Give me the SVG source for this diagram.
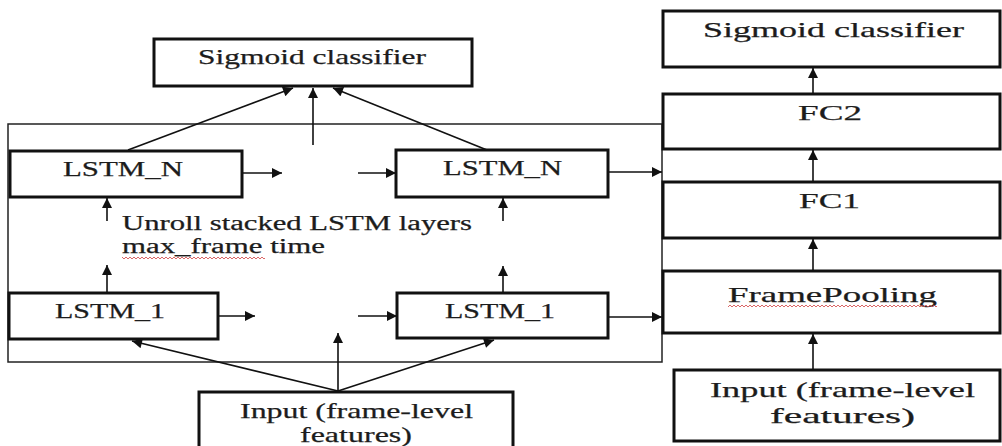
<svg xmlns="http://www.w3.org/2000/svg" width="1002" height="446" viewBox="0 0 1002 446">
  <style>
    .box { fill: #fff; stroke: #111; stroke-width: 3; }
    .frame { fill: none; stroke: #222; stroke-width: 1.5; }
    .lbl { font-family: "Liberation Serif", "DejaVu Serif", serif; font-size: 22px; fill: #1c1c1c; stroke: #1c1c1c; stroke-width: 0.25; }
    .note { font-size: 20px; }
    .con { stroke: #111; stroke-width: 1.6; fill: none; }
  </style>
  <defs>
    <marker id="ah" viewBox="0 0 10 10" refX="10" refY="5" markerWidth="12" markerHeight="10" markerUnits="userSpaceOnUse" orient="auto">
      <path d="M0,0 L10,5 L0,10 z" fill="#111"/>
    </marker>
    <pattern id="squig" x="0" y="0" width="4" height="4" patternUnits="userSpaceOnUse">
      <path d="M0 3 L2 1 L4 3" stroke="#d04040" stroke-width="0.8" fill="none"/>
    </pattern>
  </defs>

  <!-- unrolled LSTM region -->
  <rect id="unroll-frame" class="frame" x="8" y="124" width="654" height="238"/>

  <!-- left model: stacked LSTM -->
  <g id="sigmoid-left">
    <rect class="box" x="154" y="39" width="318" height="47"/>
    <text class="lbl" x="198" y="64" textLength="228" lengthAdjust="spacingAndGlyphs">Sigmoid classifier</text>
  </g>
  <g id="lstm-n-t0">
    <rect class="box" x="10" y="151" width="232" height="46"/>
    <text class="lbl" x="63" y="176" textLength="120" lengthAdjust="spacingAndGlyphs">LSTM_N</text>
  </g>
  <g id="lstm-n-tmax">
    <rect class="box" x="396" y="150" width="212" height="47"/>
    <text class="lbl" x="443" y="175" textLength="119" lengthAdjust="spacingAndGlyphs">LSTM_N</text>
  </g>
  <g id="lstm-1-t0">
    <rect class="box" x="9" y="293" width="209" height="46"/>
    <text class="lbl" x="55" y="318" textLength="110" lengthAdjust="spacingAndGlyphs">LSTM_1</text>
  </g>
  <g id="lstm-1-tmax">
    <rect class="box" x="397" y="293" width="211" height="45"/>
    <text class="lbl" x="445" y="318" textLength="110" lengthAdjust="spacingAndGlyphs">LSTM_1</text>
  </g>
  <g id="unroll-note">
    <text class="lbl note" x="122" y="230" textLength="350" lengthAdjust="spacingAndGlyphs">Unroll stacked LSTM layers</text>
    <text class="lbl note" x="122" y="253" textLength="203" lengthAdjust="spacingAndGlyphs">max_frame time</text>
    <rect x="122" y="255" width="143" height="4" fill="url(#squig)"/>
  </g>
  <g id="input-left">
    <rect class="box" x="199" y="392" width="314" height="60"/>
    <text class="lbl" x="240" y="418" textLength="233" lengthAdjust="spacingAndGlyphs">Input (frame-level</text>
    <text class="lbl" x="300" y="442" textLength="112" lengthAdjust="spacingAndGlyphs">features)</text>
  </g>

  <!-- right model: frame pooling + fully connected -->
  <g id="sigmoid-right">
    <rect class="box" x="663" y="11" width="337" height="56"/>
    <text class="lbl" x="703" y="37" textLength="261" lengthAdjust="spacingAndGlyphs">Sigmoid classifier</text>
  </g>
  <g id="fc2">
    <rect class="box" x="663" y="94" width="337" height="55"/>
    <text class="lbl" x="798" y="120" textLength="64" lengthAdjust="spacingAndGlyphs">FC2</text>
  </g>
  <g id="fc1">
    <rect class="box" x="663" y="182" width="337" height="56"/>
    <text class="lbl" x="799" y="208" textLength="61" lengthAdjust="spacingAndGlyphs">FC1</text>
  </g>
  <g id="frame-pooling">
    <rect class="box" x="663" y="271" width="337" height="62"/>
    <text class="lbl" x="728" y="302" textLength="209" lengthAdjust="spacingAndGlyphs">FramePooling</text>
    <rect x="728" y="304" width="209" height="4" fill="url(#squig)"/>
  </g>
  <g id="input-right">
    <rect class="box" x="674" y="370" width="326" height="71"/>
    <text class="lbl" x="710" y="397" textLength="265" lengthAdjust="spacingAndGlyphs">Input (frame-level</text>
    <text class="lbl" x="770" y="423" textLength="145" lengthAdjust="spacingAndGlyphs">features)</text>
  </g>

  <g id="connectors">
    <!-- top layer to classifier -->
    <line class="con" x1="128" y1="150" x2="293" y2="88" marker-end="url(#ah)"/>
    <line class="con" x1="313" y1="145" x2="313" y2="88" marker-end="url(#ah)"/>
    <line class="con" x1="487" y1="150" x2="333" y2="88" marker-end="url(#ah)"/>
    <!-- recurrence along time, layer N -->
    <line class="con" x1="243" y1="173" x2="282" y2="173" marker-end="url(#ah)"/>
    <line class="con" x1="358" y1="173" x2="396" y2="173" marker-end="url(#ah)"/>
    <line class="con" x1="608" y1="172" x2="662" y2="172" marker-end="url(#ah)"/>
    <!-- recurrence along time, layer 1 -->
    <line class="con" x1="218" y1="316" x2="255" y2="316" marker-end="url(#ah)"/>
    <line class="con" x1="358" y1="316" x2="397" y2="316" marker-end="url(#ah)"/>
    <line class="con" x1="608" y1="317" x2="662" y2="317" marker-end="url(#ah)"/>
    <!-- stacking between layers -->
    <line class="con" x1="107" y1="221" x2="107" y2="198" marker-end="url(#ah)"/>
    <line class="con" x1="107" y1="292" x2="107" y2="265" marker-end="url(#ah)"/>
    <line class="con" x1="503" y1="221" x2="503" y2="198" marker-end="url(#ah)"/>
    <line class="con" x1="503" y1="292" x2="503" y2="266" marker-end="url(#ah)"/>
    <!-- input to first layer -->
    <line class="con" x1="338" y1="391" x2="132" y2="341" marker-end="url(#ah)"/>
    <line class="con" x1="338" y1="391" x2="338" y2="333" marker-end="url(#ah)"/>
    <line class="con" x1="338" y1="391" x2="494" y2="340" marker-end="url(#ah)"/>
    <!-- right column -->
    <line class="con" x1="813" y1="94" x2="813" y2="68" marker-end="url(#ah)"/>
    <line class="con" x1="813" y1="182" x2="813" y2="150" marker-end="url(#ah)"/>
    <line class="con" x1="813" y1="271" x2="813" y2="239" marker-end="url(#ah)"/>
    <line class="con" x1="813" y1="370" x2="813" y2="334" marker-end="url(#ah)"/>
  </g>
</svg>
